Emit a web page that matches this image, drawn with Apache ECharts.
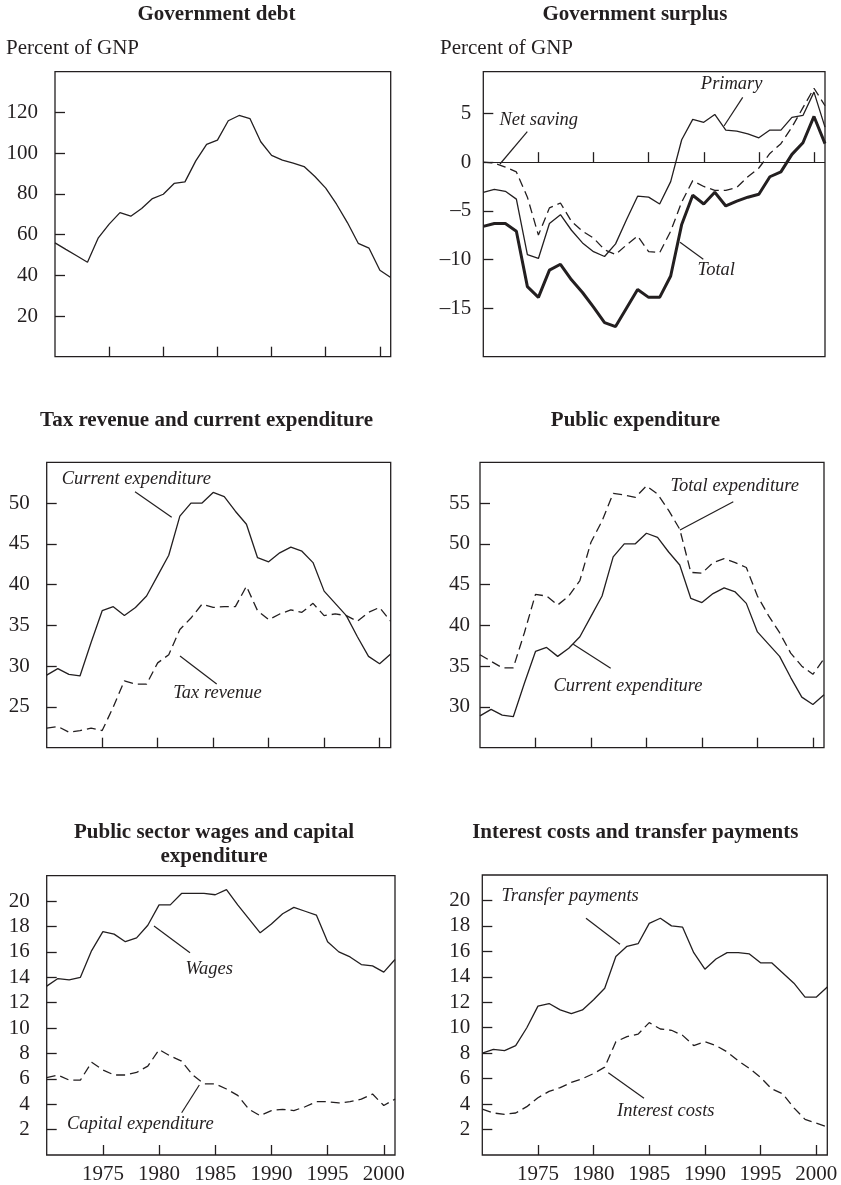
<!DOCTYPE html>
<html>
<head>
<meta charset="utf-8">
<title>Public finances, 1970-2001</title>
<script src="https://cdn.jsdelivr.net/npm/echarts@6/dist/echarts.min.js"></script>
<style>
  html, body { margin: 0; padding: 0; background: #fff; }
  #chart { width: 841px; height: 1185px; }
</style>
</head>
<body>
<div id="chart"></div>
<script>
// years on the x axis
const years = [1970, 1971, 1972, 1973, 1974, 1975, 1976, 1977, 1978, 1979,
  1980, 1981, 1982, 1983, 1984, 1985, 1986, 1987, 1988, 1989,
  1990, 1991, 1992, 1993, 1994, 1995, 1996, 1997, 1998, 1999, 2000, 2001];
const yearTicks = [1975, 1980, 1985, 1990, 1995, 2000];

// Government debt, percent of GNP
const govDebt = [55.9, 52.7, 49.6, 46.4, 58.4, 65.1, 70.8, 69.0, 72.8, 77.7,
  79.8, 85.1, 85.9, 96.2, 104.3, 106.4, 115.9, 118.5, 117.0, 105.6,
  98.9, 96.6, 95.1, 93.4, 88.5, 82.8, 74.9, 65.9, 55.7, 53.3, 42.5, 38.9];

// Government surplus, percent of GNP
const primarySurplus = [-3.1, -2.8, -3.0, -3.8, -9.5, -9.9, -6.3, -5.4, -7.0, -8.3,
  -9.2, -9.7, -8.4, -5.9, -3.5, -3.6, -4.3, -2.0, 2.3, 4.4,
  4.1, 4.9, 3.3, 3.2, 2.9, 2.5, 3.3, 3.3, 4.6, 4.8, 7.2, 3.6];
const netSaving = [0, -0.1, -0.5, -1.0, -3.6, -7.5, -4.7, -4.2, -6.1, -7.1,
  -7.8, -9.0, -9.5, -8.5, -7.6, -9.2, -9.3, -7.1, -4.1, -1.9,
  -2.5, -2.9, -2.9, -2.6, -1.5, -0.6, 0.9, 1.9, 3.6, 5.6, 7.6, 5.8];
const totalSurplus = [-6.6, -6.3, -6.3, -7.1, -12.8, -13.9, -11.1, -10.5, -12.1, -13.4,
  -14.9, -16.5, -16.9, -15.0, -13.1, -13.9, -13.9, -11.7, -6.4, -3.4,
  -4.3, -3.1, -4.5, -4.0, -3.6, -3.3, -1.5, -1.0, 0.8, 2.0, 4.7, 1.9];

// Tax revenue and expenditure
const currentExpenditure = [28.9, 29.7, 29.0, 28.8, 32.9, 36.8, 37.3, 36.2, 37.2, 38.6,
  41.1, 43.6, 48.4, 50.0, 50.0, 51.3, 50.8, 49.0, 47.4, 43.3,
  42.8, 43.9, 44.6, 44.1, 42.7, 39.2, 37.7, 36.2, 33.6, 31.2, 30.3, 31.5];
const taxRevenue = [22.4, 22.6, 21.9, 22.1, 22.4, 22.1, 25.0, 28.2, 27.8, 27.8,
  30.4, 31.4, 34.5, 35.9, 37.6, 37.2, 37.3, 37.3, 39.8, 36.8,
  35.7, 36.4, 36.9, 36.6, 37.7, 36.2, 36.4, 36.2, 35.5, 36.6, 37.2, 35.5];
const totalExpenditure = [36.4, 35.6, 34.8, 34.8, 39.1, 43.8, 43.6, 42.5, 43.6, 45.5,
  50.2, 52.8, 56.2, 56.0, 55.7, 57.1, 56.1, 54.1, 51.8, 46.5,
  46.4, 47.7, 48.2, 47.7, 47.1, 43.6, 41.2, 39.1, 36.6, 35.0, 34.0, 35.9];

// Wages and capital expenditure
const wages = [13.3, 13.9, 13.8, 14.0, 16.1, 17.6, 17.4, 16.8, 17.1, 18.1,
  19.7, 19.7, 20.6, 20.6, 20.6, 20.5, 20.9, 19.7, 18.6, 17.5,
  18.2, 19.0, 19.5, 19.2, 18.9, 16.8, 16.0, 15.6, 15.0, 14.9, 14.4, 15.4];
const capitalExpenditure = [6.1, 6.3, 5.9, 5.9, 7.3, 6.7, 6.3, 6.3, 6.5, 7.0,
  8.3, 7.8, 7.4, 6.3, 5.6, 5.6, 5.2, 4.7, 3.6, 3.1,
  3.5, 3.6, 3.5, 3.8, 4.2, 4.2, 4.1, 4.2, 4.4, 4.8, 3.9, 4.4];

// Interest costs and transfers
const transferPayments = [8.0, 8.3, 8.2, 8.6, 10.0, 11.7, 11.9, 11.4, 11.1, 11.4,
  12.2, 13.1, 15.6, 16.4, 16.6, 18.2, 18.6, 18.0, 17.9, 15.9,
  14.6, 15.4, 15.9, 15.9, 15.8, 15.1, 15.1, 14.3, 13.5, 12.4, 12.4, 13.2];
const interestCosts = [3.6, 3.3, 3.2, 3.3, 3.8, 4.5, 5.0, 5.3, 5.7, 6.0,
  6.4, 6.9, 8.9, 9.3, 9.5, 10.4, 9.9, 9.8, 9.4, 8.6,
  8.9, 8.6, 8.1, 7.4, 6.8, 6.1, 5.2, 4.8, 3.7, 2.8, 2.5, 2.2];

// y tick labels per panel
const debtTicks = [20, 40, 60, 80, 100, 120];
const surplusTicks = [-15, -10, -5, 0, 5];
const taxTicks = [25, 30, 35, 40, 45, 50];
const publicTicks = [30, 35, 40, 45, 50, 55];
const smallTicks = [2, 4, 6, 8, 10, 12, 14, 16, 18, 20];

const INK = '#231f20';
const FONT = '"Liberation Serif", "Times New Roman", serif';

function pairs(vals) {
  return years.map((y, i) => [y, vals[i]]);
}

// panel boxes
const panels = [
  { left: 55, top: 71.7, width: 335.7, height: 285, min: 0, max: 140, ticks: debtTicks, margin: 17 },
  { left: 483.3, top: 71.7, width: 341.7, height: 285, min: -20, max: 9.3, ticks: surplusTicks, margin: 12 },
  { left: 46.7, top: 462.3, width: 344, height: 285.4, min: 20, max: 55, ticks: taxTicks, margin: 17 },
  { left: 480, top: 462.3, width: 344, height: 285.4, min: 25, max: 60, ticks: publicTicks, margin: 10 },
  { left: 46.7, top: 875.7, width: 348.3, height: 279.3, min: 0, max: 22, ticks: smallTicks, margin: 17 },
  { left: 482.3, top: 875, width: 345, height: 280, min: 0, max: 22, ticks: smallTicks, margin: 12 }
];

const grid = panels.map(p => ({
  left: p.left, top: p.top, width: p.width, height: p.height,
  show: true, borderColor: INK, borderWidth: 1.3, backgroundColor: 'transparent'
}));

const xAxis = panels.map((p, i) => ({
  type: 'value', gridIndex: i, min: 1970, max: 2001,
  axisLine: { show: false },
  splitLine: { show: false },
  axisTick: { inside: true, length: 10, customValues: yearTicks, lineStyle: { color: INK, width: 1.3 } },
  axisLabel: {
    show: i >= 4, customValues: yearTicks, margin: 9,
    color: INK, fontFamily: FONT, fontSize: 21,
    formatter: v => String(v)
  }
}));

const yAxis = panels.map((p, i) => ({
  type: 'value', gridIndex: i, min: p.min, max: p.max,
  axisLine: { show: false },
  splitLine: { show: false },
  axisTick: { inside: true, length: 10, customValues: p.ticks, lineStyle: { color: INK, width: 1.3 } },
  axisLabel: {
    customValues: p.ticks, margin: p.margin,
    color: INK, fontFamily: FONT, fontSize: 21,
    formatter: v => (v < 0 ? '\u2013' + Math.abs(v) : String(v))
  }
}));

function line(idx, vals, opts) {
  return {
    type: 'line', xAxisIndex: idx, yAxisIndex: idx,
    data: pairs(vals), symbol: 'none', silent: true,
    lineStyle: Object.assign({ color: INK, width: 1.3, type: 'solid' }, opts || {})
  };
}
const DASH = [9, 5];

const series = [
  line(0, govDebt),
  Object.assign(line(1, primarySurplus), {
    markLine: {
      silent: true, symbol: 'none', label: { show: false },
      lineStyle: { color: INK, width: 1.2, type: 'solid' },
      data: [{ yAxis: 0 }]
    }
  }),
  line(1, netSaving, { type: DASH }),
  line(1, totalSurplus, { width: 3 }),
  line(2, currentExpenditure),
  line(2, taxRevenue, { type: DASH }),
  line(3, totalExpenditure, { type: DASH }),
  line(3, currentExpenditure),
  line(4, wages),
  line(4, capitalExpenditure, { type: DASH }),
  line(5, transferPayments),
  line(5, interestCosts, { type: DASH })
];

// text and leader lines
function text(str, x, y, style) {
  return {
    type: 'text', x: x, y: y, silent: true,
    style: Object.assign({
      text: str, fill: INK, fontFamily: FONT, fontSize: 21,
      align: 'center', verticalAlign: 'middle'
    }, style || {})
  };
}
function title(str, x, y) {
  return text(str, x, y, { fontWeight: 'bold', lineHeight: 24 });
}
function note(str, x, y) {
  return text(str, x, y, { fontStyle: 'italic', fontSize: 18.5 });
}
function leader(x1, y1, x2, y2) {
  return { type: 'line', silent: true, shape: { x1, y1, x2, y2 }, style: { stroke: INK, lineWidth: 1.2 } };
}

const graphic = [
  title('Government debt', 216.5, 14.8),
  title('Government surplus', 635, 14.8),
  title('Tax revenue and current expenditure', 206.5, 421),
  title('Public expenditure', 635.5, 421),
  title('Public sector wages and capital\nexpenditure', 214, 845),
  title('Interest costs and transfer payments', 635.3, 833),
  text('Percent of GNP', 6, 48.5, { align: 'left' }),
  text('Percent of GNP', 440, 48.5, { align: 'left' }),

  note('Net saving', 538.8, 120.5), leader(527.3, 131.7, 500, 164),
  note('Primary', 731.7, 84.5), leader(742.7, 97.3, 724, 126),
  note('Total', 716.3, 270.5), leader(703.3, 259.3, 680, 242.3),
  note('Current expenditure', 136.3, 479), leader(135, 491.7, 171.7, 517.3),
  note('Tax revenue', 217.5, 693), leader(180, 656, 216.7, 684),
  note('Total expenditure', 734.7, 486.5), leader(733.3, 501.7, 680, 530),
  note('Current expenditure', 628, 686.5), leader(610.7, 668.3, 573.3, 644.3),
  note('Wages', 209.2, 969), leader(154, 926, 190, 952.7),
  note('Capital expenditure', 140.3, 1124), leader(181.7, 1112.7, 199.3, 1085),
  note('Transfer payments', 570.2, 896.5), leader(586, 918.3, 620, 944.3),
  note('Interest costs', 665.8, 1111), leader(608.3, 1072.7, 644, 1098.3)
];

const myChart = echarts.init(document.getElementById('chart'), null, { renderer: 'canvas' });
myChart.setOption({
  animation: false,
  backgroundColor: '#fff',
  grid: grid,
  xAxis: xAxis,
  yAxis: yAxis,
  series: series,
  graphic: graphic
});
</script>
</body>
</html>
